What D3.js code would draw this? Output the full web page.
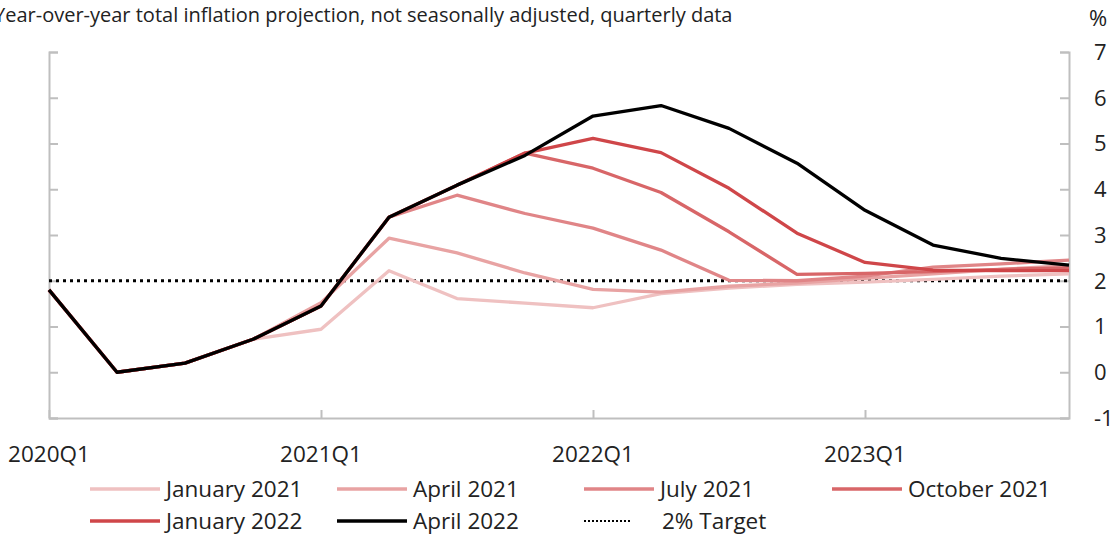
<!DOCTYPE html>
<html>
<head>
<meta charset="utf-8">
<script src="https://cdn.jsdelivr.net/npm/d3@7"></script>
<style>
  body { margin: 0; background: #fff; }
  svg { font-family: "Open Sans", "Noto Sans", sans-serif; }
</style>
</head>
<body>
<svg id="chart" width="1119" height="538"></svg>
<script>
// quarters on the x axis
var quarters = ["2020Q1", "2020Q2", "2020Q3", "2020Q4",
                "2021Q1", "2021Q2", "2021Q3", "2021Q4",
                "2022Q1", "2022Q2", "2022Q3", "2022Q4",
                "2023Q1", "2023Q2", "2023Q3", "2023Q4"];
var xTickLabels = ["2020Q1", "2021Q1", "2022Q1", "2023Q1"];
var yTicks = [-1, 0, 1, 2, 3, 4, 5, 6, 7];

// projections, one per report
var jan2021 = [1.8, 0.0, 0.2, 0.72, 0.94, 2.22, 1.61, 1.51, 1.41, 1.72, 1.84, 1.92, 1.97, 2.03, 2.1, 2.15];
var apr2021 = [1.8, 0.0, 0.2, 0.72, 1.52, 2.93, 2.61, 2.17, 1.81, 1.75, 1.88, 1.95, 2.05, 2.15, 2.25, 2.33];
var jul2021 = [1.8, 0.0, 0.2, 0.72, 1.45, 3.39, 3.87, 3.47, 3.15, 2.67, 2.01, 2.0, 2.1, 2.3, 2.37, 2.45];
var oct2021 = [1.8, 0.0, 0.2, 0.72, 1.45, 3.39, 4.09, 4.79, 4.46, 3.93, 3.07, 2.14, 2.16, 2.2, 2.25, 2.28];
var jan2022 = [1.8, 0.0, 0.2, 0.72, 1.45, 3.39, 4.09, 4.79, 5.11, 4.8, 4.02, 3.04, 2.4, 2.23, 2.22, 2.22];
var apr2022 = [1.8, 0.0, 0.2, 0.72, 1.45, 3.39, 4.09, 4.74, 5.6, 5.83, 5.33, 4.57, 3.54, 2.78, 2.49, 2.34];
var target = 2;

var series = [
    { name: "January 2021", values: jan2021, color: "#efc1c1" },
    { name: "April 2021", values: apr2021, color: "#e8a3a3" },
    { name: "July 2021", values: jul2021, color: "#e08587" },
    { name: "October 2021", values: oct2021, color: "#d86668" },
    { name: "January 2022", values: jan2022, color: "#cf4649" },
    { name: "April 2022", values: apr2022, color: "#000000" }
];

var dimensions = {
    width: 1119,
    height: 538,
    margin: { top: 52, bottom: 120, right: 50, left: 49 }
};

var svg = d3.select("#chart");
var grey = "#bfbfbf";

var x = d3.scalePoint()
    .domain(quarters)
    .range([dimensions.margin.left, dimensions.width - dimensions.margin.right]);

var y = d3.scaleLinear()
    .domain([-1, 7])
    .range([dimensions.height - dimensions.margin.bottom, dimensions.margin.top]);

var x0 = x.range()[0], x1 = x.range()[1];
var yb = y(-1);

// title (starts just past the left edge, as in the original)
svg.append("text")
    .attr("x", -6)
    .attr("y", 22)
    .style("font-size", "20px")
    .attr("fill", "#222")
    .text("Year-over-year total inflation projection, not seasonally adjusted, quarterly data");

svg.append("text")
    .attr("x", 1089)
    .attr("y", 26)
    .style("font-size", "22px")
    .attr("fill", "#222")
    .text("%");

// left axis line with inward ticks
svg.append("g")
    .attr("transform", `translate(${x0},0)`)
    .call(d3.axisRight(y).tickValues(yTicks).tickSize(9).tickFormat(""))
    .call(g => g.selectAll("path, line").attr("stroke", grey).attr("stroke-width", 2));

// right axis, labels set a little apart
svg.append("g")
    .attr("transform", `translate(${x1},0)`)
    .call(d3.axisLeft(y).tickValues(yTicks).tickSize(9).tickFormat(""))
    .call(g => g.selectAll("path, line").attr("stroke", grey).attr("stroke-width", 2));

svg.append("g").selectAll("text")
    .data(yTicks)
    .enter()
    .append("text")
    .attr("x", 1094)
    .attr("y", d => y(d))
    .attr("dy", "0.36em")
    .style("font-size", "22px")
    .attr("fill", "#222")
    .text(d => d);

// bottom axis
svg.append("g")
    .attr("transform", `translate(0,${yb})`)
    .call(d3.axisTop(x).tickValues(xTickLabels).tickSize(8).tickFormat("").tickSizeOuter(0))
    .call(g => g.selectAll("path, line").attr("stroke", grey).attr("stroke-width", 2));

svg.append("g").selectAll("text")
    .data(xTickLabels)
    .enter()
    .append("text")
    .attr("x", d => x(d))
    .attr("y", 462)
    .attr("text-anchor", "middle")
    .style("font-size", "22.5px")
    .attr("fill", "#222")
    .text(d => d);

// 2% target
svg.append("line")
    .attr("x1", x0)
    .attr("x2", x1)
    .attr("y1", y(target))
    .attr("y2", y(target))
    .attr("stroke", "#000")
    .attr("stroke-width", 3)
    .attr("stroke-dasharray", "3,4");

var line = d3.line()
    .x((d, i) => x(quarters[i]))
    .y(d => y(d));

svg.append("g").selectAll("path")
    .data(series)
    .enter()
    .append("path")
    .attr("fill", "none")
    .attr("stroke", d => d.color)
    .attr("stroke-width", 3.3)
    .attr("stroke-linejoin", "round")
    .attr("d", d => line(d.values));

// legend
var legendItems = series.map(d => ({ name: d.name, color: d.color, dotted: false }));
legendItems.push({ name: "2% Target", color: "#000", dotted: true });
var colX = [90, 337, 584, 832];
var rowY = [489, 521];

var legend = svg.append("g").selectAll("g")
    .data(legendItems)
    .enter()
    .append("g")
    .attr("transform", (d, i) => `translate(${colX[i % 4]},${rowY[Math.floor(i / 4)]})`);

legend.append("line")
    .attr("x1", 0)
    .attr("x2", d => d.dotted ? 48 : 70)
    .attr("stroke", d => d.color)
    .attr("stroke-width", d => d.dotted ? 2 : 3.3)
    .attr("stroke-dasharray", d => d.dotted ? "2,2" : null);

legend.append("text")
    .attr("x", d => d.dotted ? 78 : 76)
    .attr("dy", "0.35em")
    .style("font-size", "22.5px")
    .attr("fill", "#222")
    .text(d => d.name);
</script>
</body>
</html>
